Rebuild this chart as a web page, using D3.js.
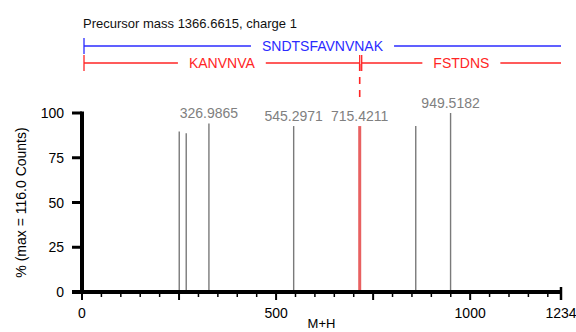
<!DOCTYPE html>
<html><head><meta charset="utf-8">
<script src="https://cdn.jsdelivr.net/npm/d3@7"></script>
<style>
html,body{margin:0;padding:0;background:#fff;}
svg{display:block;font-family:"Liberation Sans",Arial,Helvetica,sans-serif;}
</style></head>
<body>
<svg id="chart" width="576" height="332"></svg>
<script>
// ---- data ----
const title = "Precursor mass 1366.6615, charge 1";
const precursorMass = 1366.6615;
const peakMz =        [250.5, 268.5, 326.9865, 545.2971, 715.4211, 859.8, 949.5182];
const peakIntensity = [89.6,  88.7,  94.2,     92.7,     92.7,     92.7,  100];
const peakLabel =     ["",    "",    "326.9865", "545.2971", "715.4211", "", "949.5182"];
const peakHighlight = [false, false, false, false, true, false, false];
const seqNames =  ["SNDTSFAVNVNAK", "KANVNVA", "FSTDNS"];
const seqStart =  [0, 0, 715.4211];
const seqEnd =    [1366.6615, 715.4211, 1366.6615];
const seqRow =    [0, 1, 1];
const yTicks = [0, 25, 50, 75, 100];
const xLabelTicks = [0, 500, 1000, 1234];
const xDomainMax = 1234;

// ---- drawing ----
const svg = d3.select("#chart");
const x = d3.scaleLinear().domain([0, xDomainMax]).range([82, 561]);
const y = d3.scaleLinear().domain([0, 100]).range([292, 113]);
const FS = 14;

svg.append("text").attr("x", 83).attr("y", 28).attr("font-size", 13).attr("fill", "#111").text(title);

// sequence annotation
const rowY = [46, 63];
const rowColor = ["#2b2bff", "#ff2525"];
const xClip = v => Math.min(x(v), x(xDomainMax));
seqNames.forEach((name, i) => {
  const x0 = x(seqStart[i]) + 2, x1 = xClip(seqEnd[i]);
  const yy = rowY[seqRow[i]], c = rowColor[seqRow[i]];
  const g = svg.append("g");
  const t = g.append("text").attr("x", (x0 + x1) / 2).attr("y", yy + 5)
    .attr("text-anchor", "middle").attr("font-size", FS).attr("fill", c).text(name);
  const w = t.node().getComputedTextLength();
  const pad = 11;
  const cx = (x0 + x1) / 2;
  g.insert("line", "text").attr("x1", x0).attr("x2", cx - w / 2 - pad).attr("y1", yy).attr("y2", yy)
    .attr("stroke", c).attr("stroke-width", 1.3);
  g.insert("line", "text").attr("x1", cx + w / 2 + pad).attr("x2", x1).attr("y1", yy).attr("y2", yy)
    .attr("stroke", c).attr("stroke-width", 1.3);
  g.append("line").attr("x1", x0).attr("x2", x0).attr("y1", yy - 8).attr("y2", yy + 8)
    .attr("stroke", c).attr("stroke-width", 1.3);
  if (seqEnd[i] <= xDomainMax) {
    g.append("line").attr("x1", x1).attr("x2", x1).attr("y1", yy - 8).attr("y2", yy + 8)
      .attr("stroke", c).attr("stroke-width", 1.3);
  }
});

// dashed cleavage line
peakMz.forEach((m, i) => {
  if (peakHighlight[i]) {
    svg.append("line").attr("x1", x(m)).attr("x2", x(m)).attr("y1", rowY[1] + 1).attr("y2", 100)
      .attr("stroke", "#ff2525").attr("stroke-width", 1.6).attr("stroke-dasharray", "7,6");
  }
});

// peaks
const idx = d3.range(peakMz.length);
svg.append("g").selectAll("line").data(idx).join("line")
  .attr("x1", i => x(peakMz[i])).attr("x2", i => x(peakMz[i]))
  .attr("y1", y(0)).attr("y2", i => y(peakIntensity[i]))
  .attr("stroke", i => peakHighlight[i] ? "#e23a3a" : "#7a7a7a")
  .attr("stroke-opacity", i => peakHighlight[i] ? 0.8 : 1)
  .attr("stroke-width", i => peakHighlight[i] ? 3 : 1.4);
svg.append("g").selectAll("text").data(idx.filter(i => peakLabel[i])).join("text")
  .attr("x", i => x(peakMz[i])).attr("y", i => y(peakIntensity[i]) - 5)
  .attr("text-anchor", "middle").attr("font-size", FS).attr("fill", "#808080")
  .text(i => peakLabel[i]);

// y axis
const ya = svg.append("g");
ya.append("line").attr("x1", 82).attr("x2", 82).attr("y1", y(100) - 1.5).attr("y2", y(0))
  .attr("stroke", "#000").attr("stroke-width", 4);
ya.selectAll("line.t").data(yTicks).join("line").attr("class", "t")
  .attr("x1", 72).attr("x2", 82).attr("y1", d => y(d)).attr("y2", d => y(d))
  .attr("stroke", "#000").attr("stroke-width", 3);
ya.selectAll("text").data(yTicks).join("text")
  .attr("x", 64).attr("y", d => y(d)).attr("dy", "0.36em").attr("text-anchor", "end")
  .attr("font-size", FS).attr("fill", "#000").text(d => d);

// x axis
const xa = svg.append("g");
xa.append("line").attr("x1", 72).attr("x2", x(xDomainMax)).attr("y1", y(0)).attr("y2", y(0))
  .attr("stroke", "#000").attr("stroke-width", 4);
const minor = d3.range(0, xDomainMax + 1, 50);
xa.selectAll("line.m").data(minor).join("line").attr("class", "m")
  .attr("x1", d => x(d)).attr("x2", d => x(d)).attr("y1", y(0))
  .attr("y2", d => d % 250 === 0 ? 300 : 297)
  .attr("stroke", "#000").attr("stroke-width", d => d % 250 === 0 ? 2 : 1.5);
xa.append("line").attr("x1", x(xDomainMax)).attr("x2", x(xDomainMax)).attr("y1", 287).attr("y2", 300)
  .attr("stroke", "#000").attr("stroke-width", 2.5);
xa.selectAll("text").data(xLabelTicks).join("text")
  .attr("x", d => x(d)).attr("y", 318).attr("text-anchor", "middle")
  .attr("font-size", FS).attr("fill", "#000").text(d => d);

svg.append("text").attr("x", (x(0) + x(xDomainMax)) / 2).attr("y", 328).attr("text-anchor", "middle")
  .attr("font-size", 13).attr("fill", "#000").text("M+H");
svg.append("text").attr("transform", `translate(26,${(y(0) + y(100)) / 2}) rotate(-90)`)
  .attr("text-anchor", "middle").attr("font-size", FS).attr("fill", "#000").text("% (max = 116.0 Counts)");
</script>
</body></html>
